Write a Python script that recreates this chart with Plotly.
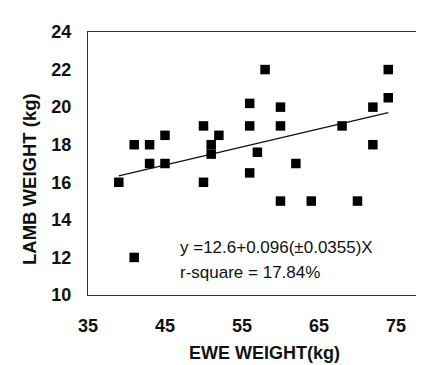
import plotly.graph_objects as go

ewe_weight = [39, 41, 41, 43, 43, 45, 45, 50, 50, 51, 51, 52, 56, 56, 56, 57, 58,
              60, 60, 60, 62, 64, 68, 70, 72, 72, 74, 74]
lamb_weight = [16, 18, 12, 18, 17, 17, 18.5, 19, 16, 18, 17.5, 18.5, 20.2, 19, 16.5, 17.6, 22,
               20, 19, 15, 17, 15, 19, 15, 20, 18, 22, 20.5]
intercept = 12.6
slope = 0.096
eq_text = "y =12.6+0.096(±0.0355)X"
r2_text = "r-square = 17.84%"
x_ticks = [35, 45, 55, 65, 75]
y_ticks = [10, 12, 14, 16, 18, 20, 22, 24]

FONT = "Liberation Sans, Arial, sans-serif"

x_lo, x_hi = min(ewe_weight), max(ewe_weight)
fit_x = [x_lo, x_hi]
fit_y = [intercept + slope * v for v in fit_x]

fig = go.Figure()
fig.add_trace(go.Scatter(x=fit_x, y=fit_y, mode="lines",
                         line=dict(color="#111", width=1.3), showlegend=False))
fig.add_trace(go.Scatter(x=ewe_weight, y=lamb_weight, mode="markers",
                         marker=dict(symbol="square", size=9.5, color="#000"),
                         showlegend=False))

fig.add_annotation(x=46.7, y=12.53, xref="x", yref="y", text=eq_text, showarrow=False,
                   xanchor="left", yanchor="middle",
                   font=dict(family=FONT, size=17, color="#111"))
fig.add_annotation(x=46.7, y=11.2, xref="x", yref="y", text=r2_text, showarrow=False,
                   xanchor="left", yanchor="middle",
                   font=dict(family=FONT, size=17, color="#111"))

fig.add_annotation(x=0.513, y=-0.222, xref="paper", yref="paper", text="EWE WEIGHT(kg)",
                   showarrow=False, xanchor="center", yanchor="middle",
                   font=dict(family=FONT, size=18, color="#111", weight="bold"))
fig.add_annotation(x=-0.1695, y=0.440, xref="paper", yref="paper", text="LAMB WEIGHT (kg)",
                   textangle=-90, showarrow=False, xanchor="center", yanchor="middle",
                   font=dict(family=FONT, size=18.5, color="#111", weight="bold"))

fig.update_layout(
    width=424, height=365,
    margin=dict(l=80, r=0, t=24, b=77.5),
    plot_bgcolor="white", paper_bgcolor="white",
    xaxis=dict(range=[35, 79.68], tickvals=x_ticks, showgrid=False, zeroline=False,
               showline=True, mirror=True, linecolor="#333", linewidth=1.3, ticks="",
               ticklabelstandoff=14,
               tickfont=dict(family=FONT, size=18, color="#111", weight="bold")),
    yaxis=dict(range=[10, 24], tickvals=y_ticks, showgrid=False, zeroline=False,
               showline=True, linecolor="#333", linewidth=1.2, ticks="",
               ticklabelstandoff=12,
               tickfont=dict(family=FONT, size=18, color="#111", weight="bold")),
)

fig.write_html("out.html")
